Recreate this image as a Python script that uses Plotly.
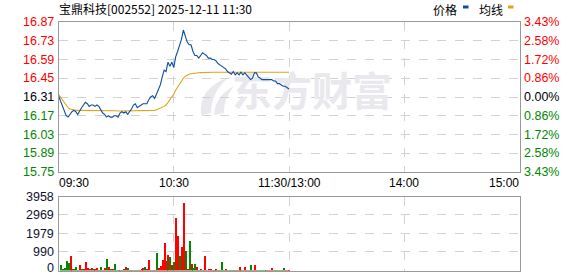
import plotly.graph_objects as go

# ---------------- data ----------------
title_text = "宝鼎科技[002552] 2025-12-11 11:30"
prev_close = 16.31
minutes = list(range(121))  # minute index from 09:30 (0) to 11:30 (120)

price = [16.32, 16.28, 16.25, 16.20, 16.17, 16.16, 16.18, 16.20, 16.21, 16.20,
         16.18, 16.21, 16.23, 16.25, 16.27, 16.26, 16.24, 16.25, 16.25, 16.24,
         16.25, 16.24, 16.21, 16.19, 16.18, 16.16, 16.17, 16.16, 16.16, 16.17,
         16.17, 16.16, 16.19, 16.20, 16.19, 16.20, 16.18, 16.20, 16.22, 16.25,
         16.26, 16.23, 16.24, 16.25, 16.26, 16.26, 16.26, 16.29, 16.31, 16.32,
         16.30, 16.33, 16.36, 16.40, 16.46, 16.51, 16.50, 16.57, 16.54, 16.57,
         16.53, 16.61, 16.65, 16.69, 16.74, 16.81, 16.76, 16.72, 16.70, 16.70,
         16.65, 16.62, 16.62, 16.60, 16.62, 16.64, 16.63, 16.62, 16.60, 16.60,
         16.59, 16.59, 16.58, 16.56, 16.55, 16.54, 16.53, 16.52, 16.50, 16.49,
         16.48, 16.50, 16.475, 16.49, 16.475, 16.495, 16.475, 16.49, 16.475, 16.46,
         16.44, 16.45, 16.49, 16.49, 16.46, 16.45, 16.44, 16.44, 16.44, 16.44,
         16.44, 16.44, 16.43, 16.43, 16.41, 16.41, 16.40, 16.39, 16.39, 16.38,
         16.37]

avg_price = [16.33, 16.31, 16.29, 16.27, 16.25, 16.23, 16.22, 16.215, 16.21, 16.21,
             16.21, 16.21, 16.212, 16.212, 16.212, 16.212, 16.212, 16.212, 16.212, 16.21,
             16.21, 16.21, 16.21, 16.21, 16.21, 16.21, 16.208, 16.208, 16.208, 16.208,
             16.207, 16.205, 16.205, 16.205, 16.205, 16.205, 16.205, 16.205, 16.205, 16.205,
             16.205, 16.205, 16.205, 16.205, 16.205, 16.205, 16.205, 16.205, 16.206, 16.207,
             16.21, 16.215, 16.22, 16.225, 16.23, 16.24, 16.25, 16.27, 16.29, 16.31,
             16.33, 16.36, 16.385, 16.41, 16.43, 16.45, 16.465, 16.475, 16.48, 16.483,
             16.486, 16.488, 16.49, 16.491, 16.492, 16.493, 16.495, 16.495, 16.495, 16.495,
             16.495, 16.495, 16.495, 16.495, 16.495, 16.495, 16.495, 16.495, 16.495, 16.495,
             16.495, 16.495, 16.495, 16.495, 16.495, 16.495, 16.495, 16.495, 16.495, 16.495,
             16.495, 16.495, 16.495, 16.495, 16.495, 16.495, 16.495, 16.495, 16.495, 16.495,
             16.495, 16.495, 16.495, 16.495, 16.495, 16.495, 16.495, 16.495, 16.495, 16.495,
             16.495]

volume = [0, 340, 55, 160, 550, 410, 816, 70, 70, 230,
          40, 340, 60, 100, 497, 160, 60, 160, 60, 100,
          160, 50, 230, 50, 160, 640, 230, 70, 70, 373,
          50, 50, 50, 50, 100, 230, 140, 50, 50, 50,
          50, 50, 50, 100, 140, 195, 70, 603, 50, 50,
          50, 940, 140, 284, 585, 1473, 515, 870, 728, 337,
          461, 2858, 1882, 816, 1296, 3639, 1083, 107, 1615, 373,
          140, 373, 230, 50, 100, 50, 816, 50, 70, 100,
          50, 50, 100, 50, 50, 497, 50, 100, 50, 50,
          50, 50, 50, 50, 230, 50, 50, 230, 50, 50,
          337, 50, 337, 50, 50, 50, 50, 50, 50, 50,
          50, 140, 50, 50, 50, 50, 50, 140, 50, 50,
          50]

# 1 = price up in that minute (red), 0 = down (green)
vol_up = [1, 0, 0, 0, 0, 0, 1, 1, 0, 0,
          0, 1, 0, 1, 1, 1, 0, 1, 0, 1,
          1, 0, 0, 1, 1, 0, 1, 0, 1, 0,
          0, 0, 0, 1, 0, 1, 0, 1, 1, 0,
          0, 0, 1, 1, 1, 0, 1, 1, 0, 1,
          1, 0, 1, 1, 1, 1, 0, 1, 0, 1,
          0, 1, 1, 0, 1, 1, 0, 1, 0, 1,
          0, 0, 1, 0, 1, 0, 1, 0, 1, 1,
          0, 1, 1, 0, 0, 0, 0, 1, 0, 0,
          0, 0, 1, 0, 1, 0, 1, 1, 0, 0,
          0, 1, 1, 0, 0, 0, 0, 0, 0, 1,
          1, 1, 0, 0, 0, 0, 1, 0, 1, 1,
          1]

price_ticks = [15.75, 15.89, 16.03, 16.17, 16.31, 16.45, 16.59, 16.73, 16.87]
price_tick_labels = ["15.75", "15.89", "16.03", "16.17", "16.31", "16.45", "16.59", "16.73", "16.87"]
pct_labels = ["3.43%", "2.58%", "1.72%", "0.86%", "0.00%", "0.86%", "1.72%", "2.58%", "3.43%"]
vol_ticks = [0, 990, 1979, 2969, 3958]
time_ticks = [0, 60, 120, 180, 240]
time_labels = ["09:30", "10:30", "11:30/13:00", "14:00", "15:00"]
legend_labels = ["价格", "均线"]
watermark_text = "东方财富"

# ---------------- style ----------------
W, H = 578, 276
PL, PR = 58.5, 519.5
P_TOP, P_BOT = 22, 172
V_TOP, V_BOT = 196.5, 270.5
RED, GREEN, BLACK = "#ff0000", "#008800", "#000000"
BLUE_LINE, GOLD_LINE = "#0b4ea2", "#e2a21b"
GRID = "#d2d2d2"
BORDER = "#999999"
WM_COLOR = "#e9e9ed"
NUM_FONT = "Liberation Sans, Arial, sans-serif"
CJK_FONT = "Noto Sans CJK SC, sans-serif"


def fx(p):
    return p / W


def fy(p):
    return 1 - p / H


def pix_path(cmds):
    # cmds: list of (letter, [x, y, x, y, ...]) in pixel coordinates
    out = []
    for letter, pts in cmds:
        if not pts:
            out.append(letter)
            continue
        coords = []
        for i in range(0, len(pts), 2):
            coords.append(f"{fx(pts[i]):.5f},{fy(pts[i + 1]):.5f}")
        out.append(letter + " ".join(coords))
    return " ".join(out)


fig = go.Figure()

# watermark text (drawn first so lines go over it)
fig.add_trace(go.Scatter(
    x=[132], y=[16.315], mode="text", text=[watermark_text],
    textfont=dict(size=40, color=WM_COLOR, family=CJK_FONT, weight="bold"),
    hoverinfo="skip", showlegend=False, xaxis="x", yaxis="y", cliponaxis=False))

fig.add_trace(go.Scatter(x=minutes, y=avg_price, mode="lines",
                         line=dict(color=GOLD_LINE, width=1.1), hoverinfo="skip",
                         showlegend=False, xaxis="x", yaxis="y"))
fig.add_trace(go.Scatter(x=minutes, y=price, mode="lines",
                         line=dict(color=BLUE_LINE, width=1.1), hoverinfo="skip",
                         showlegend=False, xaxis="x", yaxis="y"))

bar_colors = [RED if u else GREEN for u in vol_up]
fig.add_trace(go.Bar(x=minutes, y=volume, width=0.55,
                     marker=dict(color=bar_colors, line=dict(width=0)),
                     hoverinfo="skip", showlegend=False, xaxis="x2", yaxis="y2"))

axis_common = dict(showline=True, mirror=True, linecolor=BORDER, linewidth=1,
                   showgrid=True, gridcolor=GRID, griddash="dash", gridwidth=1,
                   zeroline=False, ticks="", showticklabels=False, fixedrange=True)

fig.update_layout(
    width=W, height=H, margin=dict(l=0, r=0, t=0, b=0),
    paper_bgcolor="white", plot_bgcolor="white", bargap=0,
    xaxis=dict(domain=[fx(PL), fx(PR)], range=[0, 240], tickvals=time_ticks[1:-1],
               anchor="y", **axis_common),
    yaxis=dict(domain=[fy(P_BOT), fy(P_TOP)], range=[price_ticks[0], price_ticks[-1]],
               tickvals=price_ticks[1:-1], anchor="x", **axis_common),
    xaxis2=dict(domain=[fx(PL), fx(PR)], range=[0, 240], tickvals=time_ticks[1:-1],
                anchor="y2", **axis_common),
    yaxis2=dict(domain=[fy(V_BOT), fy(V_TOP)], range=[vol_ticks[0], vol_ticks[-1]],
                tickvals=vol_ticks[1:-1], anchor="x2", **axis_common),
)

# watermark logo (quill-like blades), below traces
fig.add_shape(type="path", xref="paper", yref="paper", layer="below",
              path=pix_path([("M", [201, 115]), ("Q", [198, 88, 229, 77]),
                             ("Q", [211, 92, 211, 113]), ("Z", [])]),
              fillcolor=WM_COLOR, line=dict(width=0))
fig.add_shape(type="path", xref="paper", yref="paper", layer="below",
              path=pix_path([("M", [214, 115]), ("Q", [215, 96, 234, 86]),
                             ("Q", [223, 100, 224, 113]), ("Z", [])]),
              fillcolor=WM_COLOR, line=dict(width=0))

ann = []
# title
ann.append(dict(text=title_text, xref="paper", yref="paper", x=fx(57), y=fy(8.5),
                xanchor="left", yanchor="middle", showarrow=False,
                font=dict(size=12, color=BLACK, family=CJK_FONT)))
# price / pct labels
for v, lab, pct in zip(price_ticks, price_tick_labels, pct_labels):
    if v > prev_close + 1e-9:
        col = RED
    elif v < prev_close - 1e-9:
        col = GREEN
    else:
        col = BLACK
    ann.append(dict(text=lab, xref="paper", yref="y", x=fx(56), y=v,
                    xanchor="right", yanchor="middle", showarrow=False,
                    font=dict(size=12.5, color=col, family=NUM_FONT)))
    ann.append(dict(text=pct, xref="paper", yref="y", x=fx(522), y=v,
                    xanchor="left", yanchor="middle", showarrow=False,
                    font=dict(size=12.5, color=col, family=NUM_FONT)))
# volume labels
for v in vol_ticks:
    shift = 3 if v == vol_ticks[0] else 0
    ann.append(dict(text=str(v), xref="paper", yref="y2", x=fx(56), y=v,
                    xanchor="right", yanchor="middle", showarrow=False, yshift=shift,
                    font=dict(size=12.5, color="#101030", family=NUM_FONT)))
# time labels
for i, (t, lab) in enumerate(zip(time_ticks, time_labels)):
    if i == 0:
        d = dict(xref="paper", x=fx(57), xanchor="left")
    elif i == len(time_ticks) - 1:
        d = dict(xref="paper", x=fx(521), xanchor="right")
    else:
        d = dict(xref="x", x=t, xanchor="center")
    ann.append(dict(text=lab, yref="paper", y=fy(183), yanchor="middle",
                    showarrow=False, font=dict(size=12, color=BLACK, family=NUM_FONT), **d))
# legend
ann.append(dict(text=legend_labels[0], xref="paper", yref="paper", x=fx(431), y=fy(9),
                xanchor="left", yanchor="middle", showarrow=False,
                font=dict(size=12, color=BLACK, family=CJK_FONT)))
ann.append(dict(text=legend_labels[1], xref="paper", yref="paper", x=fx(477), y=fy(9),
                xanchor="left", yanchor="middle", showarrow=False,
                font=dict(size=12, color=BLACK, family=CJK_FONT)))
fig.update_layout(annotations=ann)

fig.add_shape(type="rect", xref="paper", yref="paper", x0=fx(463), x1=fx(468.5),
              y0=fy(8.5), y1=fy(5.5), fillcolor=BLUE_LINE, line=dict(width=0))
fig.add_shape(type="rect", xref="paper", yref="paper", x0=fx(508), x1=fx(513.5),
              y0=fy(8.5), y1=fy(5.5), fillcolor=GOLD_LINE, line=dict(width=0))

fig.write_html("out.html")
